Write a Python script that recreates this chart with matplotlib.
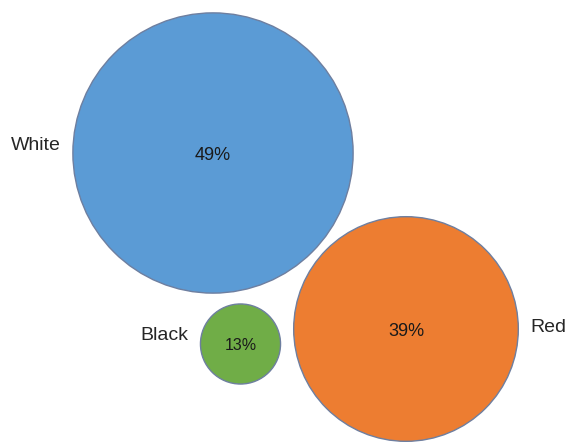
import matplotlib.pyplot as plt
from matplotlib.patches import Circle

plt.rcParams['font.family'] = ['Liberation Sans', 'DejaVu Sans']

# bubble chart data (x, y in chart units, size = share in %)
categories = ["White", "Red", "Black"]
values = [49, 39, 13]
xs = [213, 406, 240.5]
ys = [153, 329, 344]
colors = ["#5B9BD5", "#ED7D31", "#70AD47"]
label_side = ["left", "right", "left"]

# bubble radius from value (linear size scale)
r0, k = 3.9, 2.78

fig = plt.figure(figsize=(5.67, 4.42), dpi=100)
ax = fig.add_axes([0, 0, 1, 1])
ax.set_xlim(0, 567)
ax.set_ylim(442, 0)
ax.set_aspect("equal")
ax.axis("off")

for cat, v, x, y, c, side in zip(categories, values, xs, ys, colors, label_side):
    r = r0 + k * v
    ax.add_patch(Circle((x, y), r, facecolor=c, edgecolor="#6E7FA0", linewidth=1.0))
    fs = 13 if v > 20 else 11.5
    ax.text(x, y + 2, f"{v}%", ha="center", va="center", fontsize=fs, color="#1a1a1a")
    if side == "left":
        ax.text(x - r - 12, y - 8, cat, ha="right", va="center", fontsize=14, color="#262626")
    else:
        ax.text(x + r + 12, y - 2, cat, ha="left", va="center", fontsize=14, color="#262626")

fig.savefig("out.png", dpi=100, facecolor="white")
